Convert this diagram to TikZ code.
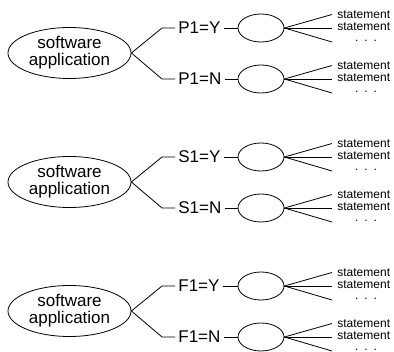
\documentclass[tikz,border=0pt]{standalone}
\usepackage{fontspec}
\setmainfont{Liberation Sans}
\usetikzlibrary{shapes.geometric}
\tikzset{>=latex,
    app/.style={draw, ellipse, inner sep=0pt, minimum width=123pt, minimum height=51pt,
        align=center, font=\fontsize{17}{17}\selectfont},
    cond/.style={inner sep=3pt, font=\fontsize{17}{17}\selectfont},
    leaf/.style={draw, ellipse, minimum width=46pt, minimum height=28pt},
    stmt/.style={anchor=west, inner sep=0pt, font=\fontsize{12}{12}\selectfont}}

\begin{document}
\begin{tikzpicture}[x=1pt, y=-1pt, line width=0.8pt]
    \useasboundingbox (0,0) rectangle (394,352);
    \foreach \g/\c/\y in {1/P/53, 2/S/182, 3/F/311} {
      \node[app] (app\g) at (69.5,\y) {software\\application};
      \foreach \b/\v/\d in {y/Y/-25, n/N/26} {
        \node[cond, anchor=west] (c\g\b) at (175,{\y+\d}) {\c1=\v};
        \node[leaf] (l\g\b) at (261,{\y+\d}) {};
        \node[stmt] (s\g\b1) at (337,{\y+\d-13.5}) {statement};
        \node[stmt] (s\g\b2) at (337,{\y+\d-1}) {statement};
        \node[stmt, anchor=center] (d\g\b) at (366,{\y+\d+13}) {.\enspace.\enspace.};
        \coordinate (e\g\b) at (332,{\y+\d+14});
        \draw (app\g.east) -- ([xshift=-13pt]c\g\b.west) -- (c\g\b.west);
        \draw (c\g\b) -- (l\g\b);
        \draw (l\g\b.east) -- ([xshift=-5pt]s\g\b1.west);
        \draw (l\g\b.east) -- ([xshift=-5pt,yshift=-1pt]s\g\b2.west);
        \draw (l\g\b.east) -- (e\g\b);
      }
    }
  \end{tikzpicture}
\end{document}
